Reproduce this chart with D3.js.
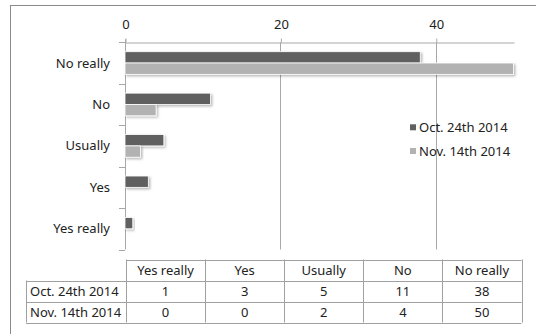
<!DOCTYPE html>
<html>
<head>
<meta charset="utf-8">
<script src="https://cdn.jsdelivr.net/npm/d3@7"></script>
<style>
  html, body { margin: 0; padding: 0; background: #fff; }
  svg { display: block; }
  text { font-family: "Noto Sans", "Open Sans", sans-serif; fill: #222; }
</style>
</head>
<body>
<svg id="chart" width="536" height="334"></svg>
<script>
// Survey answers, two collection dates
const categories = ["Yes really", "Yes", "Usually", "No", "No really"];
const seriesNames = ["Oct. 24th 2014", "Nov. 14th 2014"];
const octValues = [1, 3, 5, 11, 38];
const novValues = [0, 0, 2, 4, 50];
const xTicks = [0, 20, 40];
const seriesColors = ["#606060", "#b2b2b2"];

const series = [
  { name: seriesNames[0], values: octValues, color: seriesColors[0] },
  { name: seriesNames[1], values: novValues, color: seriesColors[1] }
];

const W = 536, H = 334;
const FS = 13;
const plot = { left: 125, right: 513.5, top: 42.3, bottom: 249.5 };

const svg = d3.select("#chart");

// drop shadow for the bars
const defs = svg.append("defs");
const f = defs.append("filter").attr("id", "shadow")
  .attr("x", "-10%").attr("y", "-30%").attr("width", "130%").attr("height", "180%");
f.append("feDropShadow").attr("dx", 1.5).attr("dy", 1.5).attr("stdDeviation", 0.9)
  .attr("flood-color", "#000").attr("flood-opacity", 0.28);

svg.append("rect").attr("width", W).attr("height", H).attr("fill", "#fff");

// chart area border
svg.append("rect")
  .attr("x", 10.5).attr("y", 5.5).attr("width", W + 10).attr("height", H + 10)
  .attr("fill", "none").attr("stroke", "#8a8a8a").attr("stroke-width", 1);

const x = d3.scaleLinear().domain([0, 50]).range([plot.left, plot.right]);

// top row of the plot is the last category
const y = d3.scaleBand().domain(categories.slice().reverse())
  .range([plot.top, plot.bottom]).paddingInner(0).paddingOuter(0);

const ySub = d3.scaleBand().domain(seriesNames)
  .range([0, y.bandwidth()]).paddingInner(0).paddingOuter(0.83);

// vertical gridlines
svg.append("g").selectAll("line")
  .data(xTicks.filter(d => d !== 0))
  .join("line")
  .attr("x1", d => Math.round(x(d)) + 0.5).attr("x2", d => Math.round(x(d)) + 0.5)
  .attr("y1", plot.top).attr("y2", plot.bottom)
  .attr("stroke", "#a8a8a8").attr("stroke-width", 1);

// top value axis
const xAxis = svg.append("g")
  .attr("transform", `translate(0.5,${Math.round(plot.top) + 0.5})`)
  .call(d3.axisTop(x).tickValues(xTicks).tickSize(4).tickSizeOuter(0).tickPadding(10).tickFormat(d3.format("d")));
xAxis.select(".domain").attr("stroke", "#a8a8a8");
xAxis.selectAll(".tick line").attr("stroke", "#a8a8a8");
xAxis.selectAll(".tick text").attr("font-size", FS).attr("fill", "#222")
  .style("font-family", "'Noto Sans', 'Open Sans', sans-serif");

// left category axis with boundary ticks
const leftG = svg.append("g");
leftG.append("line")
  .attr("x1", Math.round(plot.left) + 0.5).attr("x2", Math.round(plot.left) + 0.5)
  .attr("y1", plot.top - 3).attr("y2", plot.bottom)
  .attr("stroke", "#a8a8a8");
const bounds = categories.slice().reverse().map(c => y(c)).concat([plot.bottom]);
leftG.selectAll("line.b").data(bounds).join("line").attr("class", "b")
  .attr("x1", plot.left - 6).attr("x2", plot.left)
  .attr("y1", d => Math.round(d) + 0.5).attr("y2", d => Math.round(d) + 0.5)
  .attr("stroke", "#a8a8a8");
leftG.selectAll("text").data(categories).join("text")
  .attr("x", 110).attr("y", d => y(d) + y.bandwidth() / 2)
  .attr("dy", "0.35em").attr("text-anchor", "end")
  .attr("font-size", FS).text(d => d);

// bars
const barG = svg.append("g");
series.forEach(s => {
  barG.append("g").selectAll("rect")
    .data(categories.map((c, i) => ({ c, v: s.values[i] })).filter(d => d.v > 0))
    .join("rect")
    .attr("x", x(0))
    .attr("y", d => y(d.c) + ySub(s.name))
    .attr("width", d => x(d.v) - x(0))
    .attr("height", ySub.bandwidth())
    .attr("fill", s.color)
    .attr("stroke", "#fff").attr("stroke-width", 0.8)
    .attr("filter", "url(#shadow)");
});

// legend
const legend = svg.append("g");
series.forEach((s, i) => {
  const ly = 127.3 + i * 23.7;
  legend.append("rect").attr("x", 410).attr("y", ly - 3).attr("width", 6).attr("height", 6)
    .attr("fill", s.color);
  legend.append("text").attr("x", 419).attr("y", ly).attr("dy", "0.35em")
    .attr("font-size", FS).text(s.name);
});

// data table below the plot
const table = { left: 26, top: 259.5, headRight: 126, right: 521.5, rowH: 21 };
const colW = (table.right - table.headRight) / categories.length;
const tg = svg.append("g");
const lineCol = "#a0a0a0";
const hl = (x1, x2, yy) => tg.append("line").attr("x1", x1).attr("x2", x2)
  .attr("y1", Math.round(yy) + 0.5).attr("y2", Math.round(yy) + 0.5).attr("stroke", lineCol);
const vl = (xx, y1, y2) => tg.append("line").attr("x1", Math.round(xx) + 0.5).attr("x2", Math.round(xx) + 0.5)
  .attr("y1", y1).attr("y2", y2).attr("stroke", lineCol);

const rowsTop = [table.top, table.top + table.rowH, table.top + 2 * table.rowH, table.top + 3 * table.rowH];
hl(table.headRight, table.right, rowsTop[0]);
hl(table.left, table.right, rowsTop[1]);
hl(table.left, table.right, rowsTop[2]);
hl(table.left, table.right, rowsTop[3]);
vl(table.left, rowsTop[1], rowsTop[3]);
for (let k = 0; k <= categories.length; k++) {
  vl(table.headRight + k * colW, rowsTop[0], rowsTop[3]);
}
// header cells
tg.selectAll("text.h").data(categories).join("text").attr("class", "h")
  .attr("x", (d, i) => table.headRight + (i + 0.5) * colW)
  .attr("y", rowsTop[0] + table.rowH / 2).attr("dy", "0.35em")
  .attr("text-anchor", "middle").attr("font-size", FS).text(d => d);
// series rows
series.forEach((s, r) => {
  const cy = rowsTop[r + 1] + table.rowH / 2;
  tg.append("text").attr("x", 30).attr("y", cy).attr("dy", "0.35em")
    .attr("font-size", FS).text(s.name);
  tg.append("g").selectAll("text").data(s.values).join("text")
    .attr("x", (d, i) => table.headRight + (i + 0.5) * colW)
    .attr("y", cy).attr("dy", "0.35em")
    .attr("text-anchor", "middle").attr("font-size", FS).text(d => d);
});
</script>
</body>
</html>
